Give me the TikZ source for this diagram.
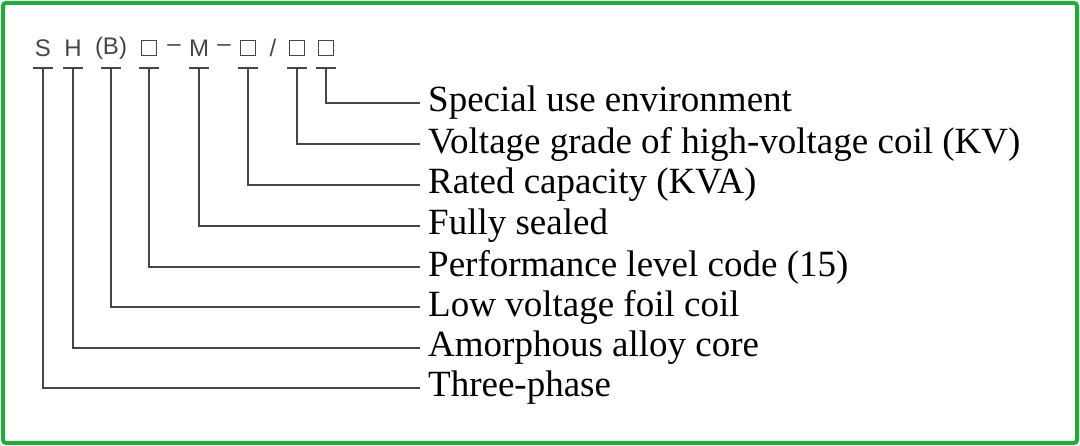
\documentclass[tikz,border=0pt]{standalone}
\usepackage{fontspec}
\setmainfont{Liberation Serif}
\newfontfamily\codefont{Liberation Sans}
\definecolor{frame}{RGB}{34,170,60}
\definecolor{ln}{RGB}{70,70,70}
\newcommand{\sqbox}{\tikz[baseline=0pt]\draw[ln,line width=0.9pt] (0,0) rectangle (15pt,15pt);}
\begin{document}
\begin{tikzpicture}[x=1pt,y=-1pt,
  lbl/.style={anchor=west,font=\fontsize{37}{38}\selectfont,inner sep=0pt},
  code/.style={font=\codefont\fontsize{24}{24}\selectfont,text=ln,inner sep=0pt},
  wire/.style={draw=ln,line width=1.3pt}]
\useasboundingbox (0,0) rectangle (1080,446);
\draw[frame,line width=4pt,rounded corners=3pt] (3,3) rectangle (1077,443);
\foreach \t/\x/\n in {S/43/c1,H/73/c2,(B)/111/c3,\sqbox/149/c4,M/199/c5,\sqbox/248/c6,\sqbox/297/c7,\sqbox/326/c8}
  \node[code] (\n) at (\x,48) {\t};
\node[code] at (174,48) {–};
\node[code] at (224,48) {–};
\node[code] at (273,48) {/};
\foreach \n/\x/\y/\t in {c8/326/103/Special use environment,
  c7/297/144/Voltage grade of high-voltage coil (KV),
  c6/248/185/Rated capacity (KVA),
  c5/199/226/Fully sealed,
  c4/149/267/Performance level code (15),
  c3/111/307/Low voltage foil coil,
  c2/73/348/Amorphous alloy core,
  c1/43/388/Three-phase}{
  \coordinate (t\n) at (\x,68);
  \draw[wire] (\x-10,68) -- (\x+10,68);
  \node[lbl] (l\n) at (428,\y) {\t};
  \draw[wire] (t\n) |- ([xshift=-8pt]l\n.west);
}
\end{tikzpicture}
\end{document}
